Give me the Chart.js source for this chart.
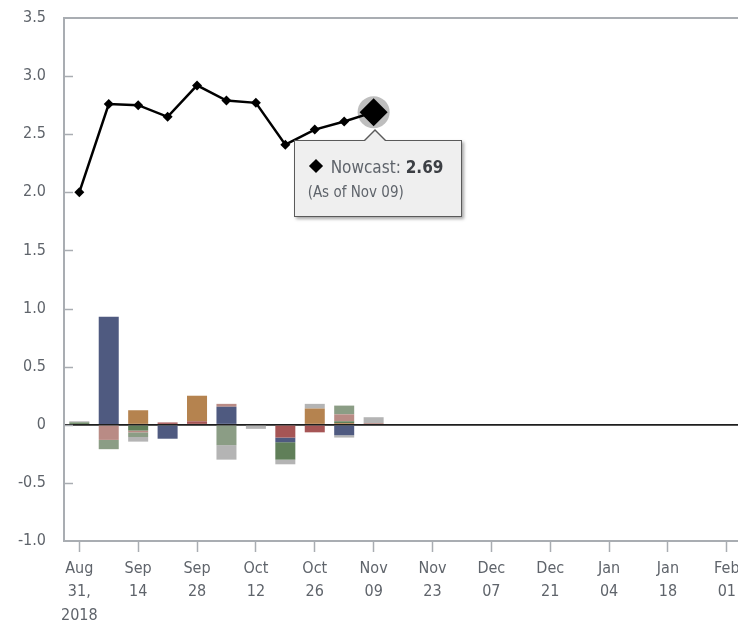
<!DOCTYPE html>
<html>
<head>
<meta charset="utf-8">
<script src="https://cdn.jsdelivr.net/npm/chart.js@4.4.1/dist/chart.umd.min.js"></script>
<style>
  html, body { margin: 0; padding: 0; background: #fff; }
  .wrap { position: relative; width: 738px; height: 621px; overflow: hidden; }
  #tip {
    position: absolute; display: none; box-sizing: border-box;
    width: 168px; height: 77px; padding: 15px 12px 0 13px;
    background: #efefef; border: 1px solid #5a5a5a;
    box-shadow: 2px 2px 3px rgba(0,0,0,0.35);
    font-family: 'Liberation Sans Narrow', 'DejaVu Sans Condensed', Roboto, sans-serif;
    color: #5f646b;
  }
  #tip::before, #tip::after {
    content: ''; position: absolute; left: 68px; width: 0; height: 0;
    border-left: 12px solid transparent; border-right: 12px solid transparent;
  }
  #tip::before { top: -12px; border-bottom: 12px solid #5a5a5a; }
  #tip::after { top: -10px; border-bottom: 11px solid #efefef; left: 69px; border-left-width: 11px; border-right-width: 11px; }
  #tip .row { font-size: 17px; line-height: 22px; white-space: nowrap; }
  #tip .row b { color: #3c3f44; }
  #tip .mk { display: inline-block; width: 10px; height: 10px; background: #000; transform: rotate(45deg); margin: 0 10px 2px 3px; }
  #tip .sub { font-size: 15px; line-height: 20px; margin-top: 4px; }
</style>
</head>
<body>
<div class="wrap">
  <canvas id="chart" width="738" height="621"></canvas>
  <div id="tip"></div>
</div>
<script>
// weekly nowcast dates
const weeks = ['Aug 31', 'Sep 07', 'Sep 14', 'Sep 21', 'Sep 28', 'Oct 05', 'Oct 12', 'Oct 19', 'Oct 26', 'Nov 02', 'Nov 09'];

// axis labels (every other week)
const tickLabels = [['Aug', '31,', '2018'], ['Sep', '14'], ['Sep', '28'], ['Oct', '12'], ['Oct', '26'], ['Nov', '09'],
  ['Nov', '23'], ['Dec', '07'], ['Dec', '21'], ['Jan', '04'], ['Jan', '18'], ['Feb', '01']];

// nowcast line
const nowcast = [2.00, 2.76, 2.75, 2.65, 2.92, 2.79, 2.77, 2.41, 2.54, 2.61, 2.69];

// impact of news by category
const housing       = [0, 0, 0, 0.02, 0.03, 0, 0, -0.11, -0.065, 0, 0];
const manufacturing = [0, 0.93, 0, -0.12, 0, 0.155, 0, -0.04, 0, -0.09, 0];
const surveys       = [0, 0, 0.125, 0, 0.22, 0, 0, 0, 0.14, 0.015, 0];
const retail        = [0.02, 0, -0.05, 0, 0, 0, 0, -0.15, 0, 0.015, 0];
const income        = [0, -0.13, -0.015, 0, 0, 0.025, 0, 0, 0, 0.06, 0.015];
const labor         = [0, -0.08, -0.04, 0, 0, -0.175, 0, 0, 0, 0.075, 0];
const others        = [0.01, 0, -0.04, 0, 0, -0.125, -0.035, -0.04, 0.04, -0.02, 0.05];

const FONT = "'Liberation Sans Narrow', 'DejaVu Sans Condensed', Roboto, sans-serif";
const TEXT = '#5f646b';
const AXIS = '#a9adb2';

const bars = [
  ['Housing and construction', housing, '#a65555'],
  ['Manufacturing', manufacturing, '#4f5a80'],
  ['Surveys', surveys, '#b5834f'],
  ['Retail and consumption', retail, '#607f59'],
  ['Income', income, '#b98b85'],
  ['Labor', labor, '#8b9d85'],
  ['Others', others, '#b4b4b4']
].map(([label, data, color]) => ({
  type: 'bar', label, data, backgroundColor: color, borderWidth: 0,
  barPercentage: 0.68, categoryPercentage: 1, order: 2, stack: 'news'
}));

const lastIdx = nowcast.length - 1;

// inward tick marks on the y axis
const innerTicks = {
  id: 'innerTicks',
  beforeDatasetsDraw(chart) {
    const y = chart.scales.y;
    const ctx = chart.ctx;
    ctx.save();
    ctx.strokeStyle = AXIS;
    ctx.lineWidth = 1.5;
    y.ticks.forEach(t => {
      if (t.value === y.min || t.value === y.max) return;
      const py = Math.round(y.getPixelForValue(t.value)) + 0.5;
      ctx.beginPath();
      ctx.moveTo(y.right, py);
      ctx.lineTo(y.right + 9, py);
      ctx.stroke();
    });
    ctx.restore();
  }
};

function externalTip(context) {
  const tooltip = context.tooltip;
  const el = document.getElementById('tip');
  if (tooltip.opacity === 0 || !tooltip.dataPoints.length) { el.style.display = 'none'; return; }
  const dp = tooltip.dataPoints[0];
  el.innerHTML = '<div class="row"><span class="mk"></span>Nowcast: <b>' + dp.parsed.y.toFixed(2) +
    '</b></div><div class="sub">(As of ' + weeks[dp.dataIndex] + ')</div>';
  el.style.display = 'block';
  el.style.left = (tooltip.caretX - 80) + 'px';
  el.style.top = (tooltip.caretY + 28) + 'px';
}

const chart = new Chart(document.getElementById('chart'), {
  data: {
    labels: weeks.map((w, i) => i),
    datasets: [
      {
        type: 'line', label: 'Nowcast', data: nowcast, stack: 'nowcast', order: 0,
        borderColor: '#000', borderWidth: 2.5, tension: 0,
        pointStyle: 'rectRot', pointRadius: 5, pointBackgroundColor: '#000', pointBorderWidth: 0,
        pointHoverRadius: 14, pointHoverBackgroundColor: '#000', pointHoverBorderWidth: 0
      },
      {
        type: 'line', label: 'halo', data: nowcast.map((v, i) => i === lastIdx ? v : null),
        stack: 'halo', order: 1, showLine: false,
        pointStyle: 'circle', pointRadius: 16, pointBackgroundColor: 'rgba(125,125,125,0.5)', pointBorderWidth: 0
      },
      ...bars
    ]
  },
  options: {
    responsive: false,
    animation: false,
    events: [],
    layout: { autoPadding: false, padding: { top: 18, left: 0, right: 0, bottom: 0 } },
    plugins: {
      legend: { display: false },
      tooltip: { enabled: false, external: externalTip }
    },
    scales: {
      x: {
        type: 'linear', stacked: true, offset: false,
        min: -0.52, max: 22.38,
        afterBuildTicks: s => { s.ticks = tickLabels.map((l, i) => ({ value: i * 2 })); },
        afterFit: s => { s.paddingLeft = 0; s.paddingRight = 0; s.height = 80; },
        border: { display: true, color: AXIS, width: 2 },
        grid: { offset: false, drawOnChartArea: false, tickLength: 11, tickColor: AXIS, tickWidth: 1.5 },
        ticks: {
          autoSkip: false, maxRotation: 0, padding: 5, color: TEXT,
          font: { family: FONT, size: 16, lineHeight: 1.47 },
          callback: (v, i) => tickLabels[i]
        }
      },
      y: {
        stacked: true, min: -1, max: 3.5, z: 1,
        afterFit: s => { s.width = 64; s.paddingTop = 0; s.paddingBottom = 0; },
        border: { display: true, color: AXIS, width: 2 },
        grid: {
          drawTicks: false,
          color: c => c.tick.value === 0 ? '#1e1e1e' : (c.tick.value === 3.5 ? AXIS : 'rgba(0,0,0,0)'),
          lineWidth: c => c.tick.value === 0 ? 1.8 : 2
        },
        ticks: {
          stepSize: 0.5, padding: 18, color: TEXT,
          font: { family: FONT, size: 16 },
          callback: v => v === 0 ? '0' : v.toFixed(1)
        }
      }
    }
  },
  plugins: [innerTicks]
});

const active = [{ datasetIndex: 0, index: lastIdx }];
const pt = chart.getDatasetMeta(0).data[lastIdx];
chart.setActiveElements(active);
chart.tooltip.setActiveElements(active, { x: pt.x, y: pt.y });
chart.update();
</script>
</body>
</html>
